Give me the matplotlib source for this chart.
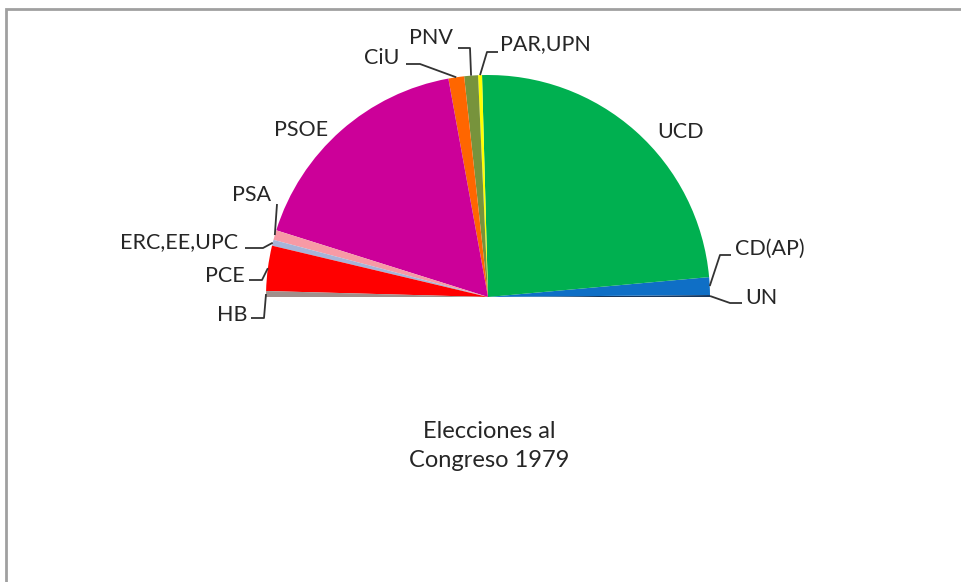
import numpy as np
import matplotlib.pyplot as plt
from matplotlib.patches import Rectangle

# escaños Congreso 1979, en el orden del semicírculo (de derecha a izquierda)
partidos = ['UN', 'CD(AP)', 'UCD', 'PAR,UPN', 'PNV', 'CiU', 'PSOE', 'PSA',
            'ERC,EE,UPC', 'PCE', 'HB']
escanos = [1, 9, 168, 2, 7, 8, 121, 5, 3, 23, 3]
colores = ['#17375E', '#0F6FC6', '#00B050', '#FFFF00', '#77933C', '#FF6600',
           '#CC0099', '#F79AA5', '#A6B4D8', '#FF0000', '#A0908C']

W, H = 962, 582
cx, cy, R = 488, 297, 222   # centro y radio en pixeles (y hacia abajo)

def p(x, y):
    return x, H - y

plt.rcParams['font.family'] = ['Lato', 'DejaVu Sans']

fig = plt.figure(figsize=(W / 100, H / 100), dpi=100)
ax = fig.add_axes([0, 0, 1, 1])

total = sum(escanos)
vals = escanos + [total]   # mitad inferior invisible
cols = colores + ['none']
wedges, _ = ax.pie(vals, colors=cols, startangle=0, counterclock=True,
                   center=p(cx, cy), radius=R,
                   wedgeprops=dict(linewidth=0))
ax.set_xlim(0, W)
ax.set_ylim(0, H)
ax.set_aspect('equal')
ax.axis('off')

# angulos medios de cada sector
cum = np.cumsum([0] + escanos)
mid = {partidos[i]: np.deg2rad((cum[i] + cum[i + 1]) / 2 / total * 180)
       for i in range(len(partidos))}

def ancla(nombre):
    a = mid[nombre]
    return cx + R * np.cos(a), cy - R * np.sin(a)

fs = 15.5
# etiquetas con linea guia: (texto x, texto y, alineacion, puntos de la linea)
guias = {
    'CD(AP)': (735, 249, 'left', [(720, 255), (731, 255)]),
    'UN': (745, 298, 'left', [(730, 303), (742, 303)]),
    'PAR,UPN': (500, 44, 'left', [(487, 52), (498, 52)]),
    'PNV': (453, 38, 'right', [(470, 48), (458, 48)]),
    'CiU': (399, 58, 'right', [(420, 64), (406, 64)]),
    'PSA': (271, 195, 'right', [(277, 204)]),
    'ERC,EE,UPC': (238, 242, 'right', [(263, 248), (245, 248)]),
    'PCE': (245, 276, 'right', [(262, 280), (249, 280)]),
    'HB': (248, 315, 'right', [(264, 318), (251, 318)]),
}
for nombre, (tx, ty, ha, pts) in guias.items():
    linea = [ancla(nombre)] + pts
    xs = [q[0] for q in linea]
    ys = [H - q[1] for q in linea]
    ax.plot(xs, ys, color='#333333', lw=1.3, solid_capstyle='butt')
    ax.text(*p(tx, ty), nombre, ha=ha, va='center', fontsize=fs, color='#262626')

ax.text(*p(681, 132), 'UCD', ha='center', va='center', fontsize=fs, color='#262626')
ax.text(*p(301, 130), 'PSOE', ha='center', va='center', fontsize=fs, color='#262626')

ax.text(*p(489, 446), 'Elecciones al\nCongreso 1979', ha='center', va='center',
        fontsize=17, color='#262626', linespacing=1.45)

# marco
fig.patches.append(Rectangle((6 / W, -0.1), 1.2, (H - 9) / H + 0.1,
                             transform=fig.transFigure, fill=False,
                             edgecolor='#A0A0A0', lw=2))

fig.savefig('out.png', dpi=100)
